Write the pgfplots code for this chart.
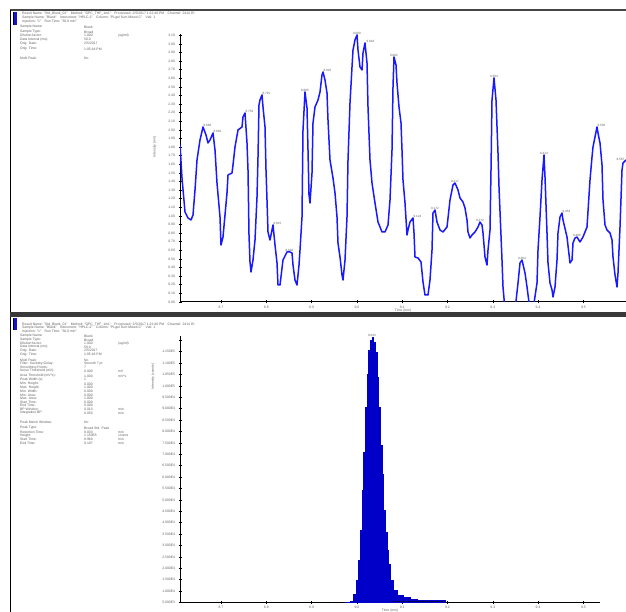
\documentclass[border=0pt]{standalone}
\usepackage{fontspec}
\setmainfont{Liberation Sans}
\usepackage{pgfplots}
\pgfplotsset{compat=1.18}
\definecolor{lineblue}{RGB}{25,25,255}
\definecolor{fillblue}{RGB}{0,0,200}
\definecolor{txt}{RGB}{95,95,95}
\newcommand{\tf}{\fontsize{3.4}{4}\selectfont}
\newcommand{\infoline}[4]{%
  \node[anchor=west,inner sep=0pt,text=txt,font=\tf] at (20,612-#1) {#2};
  \node[anchor=west,inner sep=0pt,text=txt,font=\tf] at (84,612-#1) {#3};
  \node[anchor=west,inner sep=0pt,text=txt,font=\tf] at (118,612-#1) {#4};}
\newcommand{\hdline}[2]{\node[anchor=west,inner sep=0pt,text=txt,font=\tf] at (22,612-#1) {#2};}
\pgfplotsset{chartax/.style={scale only axis, anchor=south west,
  axis x line*=bottom, axis y line*=left,
  axis line style={line width=1pt, black},
  tick style={black, line width=0.6pt}, major tick length=3pt, tick align=center,
  tick label style={font=\tf, text=txt},
  /pgf/number format/assume math mode=true,
  xtick={221,266.3,311.6,356.9,402.2,447.5,492.8,538.1,583.4},
  xticklabels={8.7,8.8,8.9,9.0,9.1,9.2,9.3,9.4,9.5},
  xticklabel style={yshift=1pt},
  xlabel style={font=\tf, text=txt, at={(axis description cs:0.5,0)}, anchor=north, yshift=-4pt},
  ylabel style={font=\tf, text=txt, rotate=0},
  clip mode=individual}}
\begin{document}
\begin{tikzpicture}[x=1pt,y=1pt]
\useasboundingbox (0,0) rectangle (626,612);
% frame
\draw[gray!55!black,line width=1.6pt] (10,602) -- (626,602);
\draw[black,line width=1pt] (10.8,602) -- (10.8,0);
\fill[gray!45!black] (10,612-317) rectangle (626,612-312.5);
\fill[lineblue!80!black] (13.5,612-25) rectangle (17,612-12);
\draw[black,line width=0.5pt] (13.5,612-25) -- (13.5,612-12);
\fill[lineblue!80!black] (13.5,612-330) rectangle (17,612-318);
\draw[black,line width=0.5pt] (13.5,612-330) -- (13.5,612-318);
% ---------- top info panel
\hdline{13.5}{Result Name: "Std\_Blank\_01"\quad Method: "GPC\_THF\_1mL"\quad Processed: 2/5/2017 1:22:40 PM\quad Channel: 2414 RI}
\hdline{17.5}{Sample Name: "Blank"\quad Instrument: "HPLC-2"\quad Column: "PLgel 5um Mixed-C"\quad Vial: 1}
\hdline{21.5}{Injection: "1"\quad Run Time: "30.0 min"}
\infoline{27}{Sample Name:}{Blank}{}
\infoline{32}{Sample Type:}{Broad}{}
\infoline{35.5}{Dilution factor:}{1.000}{(ug/ml)}
\infoline{39.5}{Data Interval (ms):}{50.0}{}
\infoline{43.5}{Orig. Date:}{2/5/2017}{}
\infoline{49}{Orig. Time:}{1:05:18 PM}{}
\infoline{58}{Multi Peak:}{No}{}
% ---------- bottom info panel
\hdline{324.5}{Result Name: "Std\_Blank\_01"\quad Method: "GPC\_THF\_1mL"\quad Processed: 2/5/2017 1:22:40 PM\quad Channel: 2414 RI}
\hdline{328}{Sample Name: "Blank"\quad Instrument: "HPLC-2"\quad Column: "PLgel 5um Mixed-C"\quad Vial: 1}
\hdline{331.5}{Injection: "1"\quad Run Time: "30.0 min"}
\infoline{336}{Sample Name:}{Blank}{}
\infoline{340}{Sample Type:}{Broad}{}
\infoline{343.5}{Dilution factor:}{1.000}{(ug/ml)}
\infoline{347}{Data Interval (ms):}{50.0}{}
\infoline{350.5}{Orig. Date:}{2/5/2017}{}
\infoline{354.5}{Orig. Time:}{1:05:18 PM}{}
\infoline{360}{Multi Peak:}{No}{}
\infoline{364}{Filter:  Savitzky-Golay:}{Smooth 7 pt}{}
\infoline{367.5}{Smoothing Points:}{7}{}
\infoline{371}{Noise Threshold (mV):}{0.000}{mV}
\infoline{376}{Area Threshold (mV*s):}{1.000}{mV*s}
\infoline{379.5}{Peak Width (s):}{1}{}
\infoline{384}{Min. Height:}{0.000}{}
\infoline{387.5}{Max. Height:}{1.000}{}
\infoline{391.5}{Min. Width:}{0.000}{}
\infoline{395}{Min. Area:}{0.000}{}
\infoline{398.5}{Max. Area:}{1.000}{}
\infoline{402}{Start Time:}{0.000}{}
\infoline{405.5}{End Time:}{0.000}{}
\infoline{409}{BP Window:}{0.010}{min}
\infoline{413}{Integration BP:}{0.050}{min}
\infoline{422}{Peak Match Window:}{No}{}
\infoline{428}{Peak Type:}{Broad Std. Peak}{}
\infoline{432}{Retention Time:}{9.033}{min}
\infoline{435.5}{Height:}{1.150E5}{counts}
\infoline{439.5}{Start Time:}{8.960}{min}
\infoline{443}{End Time:}{9.197}{min}
% ---------- top chart
\begin{axis}[chartax, at={(180,310)}, width=446pt, height=268pt,
  xmin=180, xmax=626, ymin=0, ymax=268,
  ytick distance=8.6,
  yticklabel={\pgfmathparse{\tick/86}\pgfmathprintnumber[fixed,fixed zerofill,precision=2]{\pgfmathresult}},
  xlabel={Time (min)},
  ylabel={Intensity (mV)},
  ylabel style={at={(axis description cs:-0.045,0.58)}, anchor=south}]
\addplot[lineblue, line width=1.5pt, line join=round] table[row sep=\\] {
x h\\ 180 157\\ 182 124\\ 185 90\\ 188 84\\ 191 82\\ 193 87\\ 195 112\\ 197 142\\ 200 162\\ 203 175\\
206 167\\ 208 159\\ 210 162\\ 213 169\\ 215 152\\ 217 119\\ 220 85\\ 221 57\\ 223 65\\ 225 87\\
227 109\\ 228 127\\ 232 129\\ 233 137\\ 235 155\\ 238 172\\ 242 175\\ 243 185\\ 245 189\\ 247 159\\
248 132\\ 249 67\\ 250 40\\ 251 30\\ 253 42\\ 255 62\\ 257 105\\ 258 145\\ 259 197\\ 260 202\\
262 207\\ 263 195\\ 265 175\\ 266 132\\ 267 102\\ 268 70\\ 270 62\\ 272 72\\ 273 77\\ 275 57\\
277 39\\ 278 17\\ 280 17\\ 283 42\\ 287 50\\ 290 50\\ 292 49\\ 293 37\\ 295 22\\ 297 17\\
299 37\\ 300 52\\ 302 85\\ 303 172\\ 305 210\\ 307 194\\ 308 152\\ 309 107\\ 310 99\\ 312 129\\
313 179\\ 315 195\\ 318 202\\ 320 210\\ 322 227\\ 323 230\\ 325 222\\ 327 209\\ 328 182\\ 330 142\\
333 124\\ 335 109\\ 337 85\\ 338 59\\ 340 45\\ 342 27\\ 343 22\\ 345 42\\ 347 85\\ 348 142\\
350 199\\ 352 235\\ 353 252\\ 355 262\\ 357 267\\ 358 252\\ 360 235\\ 362 232\\ 363 249\\ 365 259\\
367 239\\ 368 195\\ 370 142\\ 372 119\\ 375 99\\ 378 80\\ 382 70\\ 385 70\\ 388 77\\ 390 102\\
392 152\\ 393 215\\ 394 245\\ 396 237\\ 397 219\\ 399 195\\ 401 179\\ 402 152\\ 403 122\\ 405 99\\
407 67\\ 408 72\\ 410 80\\ 413 84\\ 414 69\\ 415 45\\ 418 44\\ 421 40\\ 423 20\\ 425 7\\
428 7\\ 430 22\\ 432 52\\ 433 89\\ 435 92\\ 437 80\\ 440 72\\ 443 70\\ 447 75\\ 450 102\\
453 117\\ 455 119\\ 458 112\\ 460 104\\ 463 100\\ 465 94\\ 467 82\\ 468 70\\ 470 64\\ 472 67\\
475 70\\ 478 75\\ 480 80\\ 482 77\\ 483 69\\ 485 45\\ 487 37\\ 488 52\\ 490 72\\ 491 132\\
492 202\\ 494 224\\ 496 202\\ 498 149\\ 499 115\\ 502 42\\ 503 15\\ 505 -8\\ 515 -8\\ 518 19\\
520 39\\ 522 42\\ 525 29\\ 527 15\\ 530 -8\\ 533 -8\\ 537 19\\ 538 52\\ 540 85\\ 542 122\\
544 147\\ 545 125\\ 547 69\\ 548 39\\ 550 19\\ 552 12\\ 553 5\\ 555 15\\ 557 42\\ 558 69\\
560 85\\ 562 89\\ 563 82\\ 567 65\\ 570 39\\ 572 42\\ 573 59\\ 575 64\\ 577 65\\ 580 60\\
583 65\\ 587 75\\ 590 122\\ 592 145\\ 593 155\\ 595 165\\ 597 175\\ 598 169\\ 600 159\\ 602 137\\
603 102\\ 605 77\\ 607 72\\ 610 69\\ 612 62\\ 613 45\\ 615 27\\ 617 15\\ 618 29\\ 620 75\\
622 132\\ 623 139\\ 626 142\\
};
\begin{scope}[every node/.style={font=\fontsize{3.1}{4}\selectfont, text=txt, anchor=south west, inner sep=0.4pt}]
\node at (axis cs:203,175) {8.660};
\node at (axis cs:213,169) {8.682};
\node at (axis cs:245,189) {8.753};
\node at (axis cs:262,207) {8.791};
\node at (axis cs:273,77) {8.815};
\node at (axis cs:285,50) {8.846};
\node[anchor=south] at (axis cs:305,210) {8.885};
\node at (axis cs:323,230) {8.925};
\node[anchor=south] at (axis cs:357,267) {9.000};
\node at (axis cs:366,259) {9.018};
\node[anchor=south] at (axis cs:394,245) {9.082};
\node at (axis cs:413,84) {9.124};
\node[anchor=south] at (axis cs:435,92) {9.172};
\node[anchor=south] at (axis cs:455,119) {9.217};
\node[anchor=south] at (axis cs:480,80) {9.272};
\node[anchor=south] at (axis cs:494,224) {9.303};
\node[anchor=south] at (axis cs:522,42) {9.364};
\node[anchor=south] at (axis cs:544,147) {9.413};
\node at (axis cs:562,89) {9.453};
\node[anchor=south] at (axis cs:577,65) {9.486};
\node at (axis cs:597,175) {9.530};
\node[anchor=south east] at (axis cs:625,141) {9.587};
\end{scope}
\end{axis}
% ---------- bottom chart
\begin{axis}[chartax, at={(180,9.5)}, width=420pt, height=266pt,
  xmin=180, xmax=600, ymin=0, ymax=266,
  ytick distance=11.4,
  yticklabels={0.000,5.000E3,1.000E4,1.500E4,2.000E4,2.500E4,3.000E4,3.500E4,4.000E4,4.500E4,5.000E4,5.500E4,6.000E4,6.500E4,7.000E4,7.500E4,8.000E4,8.500E4,9.000E4,9.500E4,1.000E5,1.050E5,1.100E5,1.150E5},
  xlabel={Time (min)},
  xlabel style={yshift=0.6pt},
  ylabel={Intensity (counts)},
  ylabel style={at={(axis description cs:-0.052,0.85)}, anchor=south}]
\addplot[fillblue, fill=fillblue, const plot, line width=0.3pt] table[row sep=\\] {
x h\\ 345 0\\ 350 1\\ 353 8\\ 356 22\\ 358 42\\ 360 72\\ 362 112\\ 363 150\\ 365 195\\ 367 228\\
368 252\\ 370 262\\ 372 265\\ 373 260\\ 375 250\\ 377 225\\ 378 195\\ 380 157\\ 382 128\\ 383 92\\
385 70\\ 387 52\\ 388 38\\ 390 22\\ 393 12\\ 397 7\\ 403 5\\ 410 3\\ 417 2\\ 443 2\\ 445 0\\
} \closedcycle;
\addplot[black, densely dotted, line width=0.9pt] coordinates {(393,1) (443,1)};
\node[font=\fontsize{3.1}{4}\selectfont, text=txt, anchor=south, inner sep=0.6pt] at (axis cs:372,265) {9.033};
\end{axis}
\end{tikzpicture}
\end{document}
